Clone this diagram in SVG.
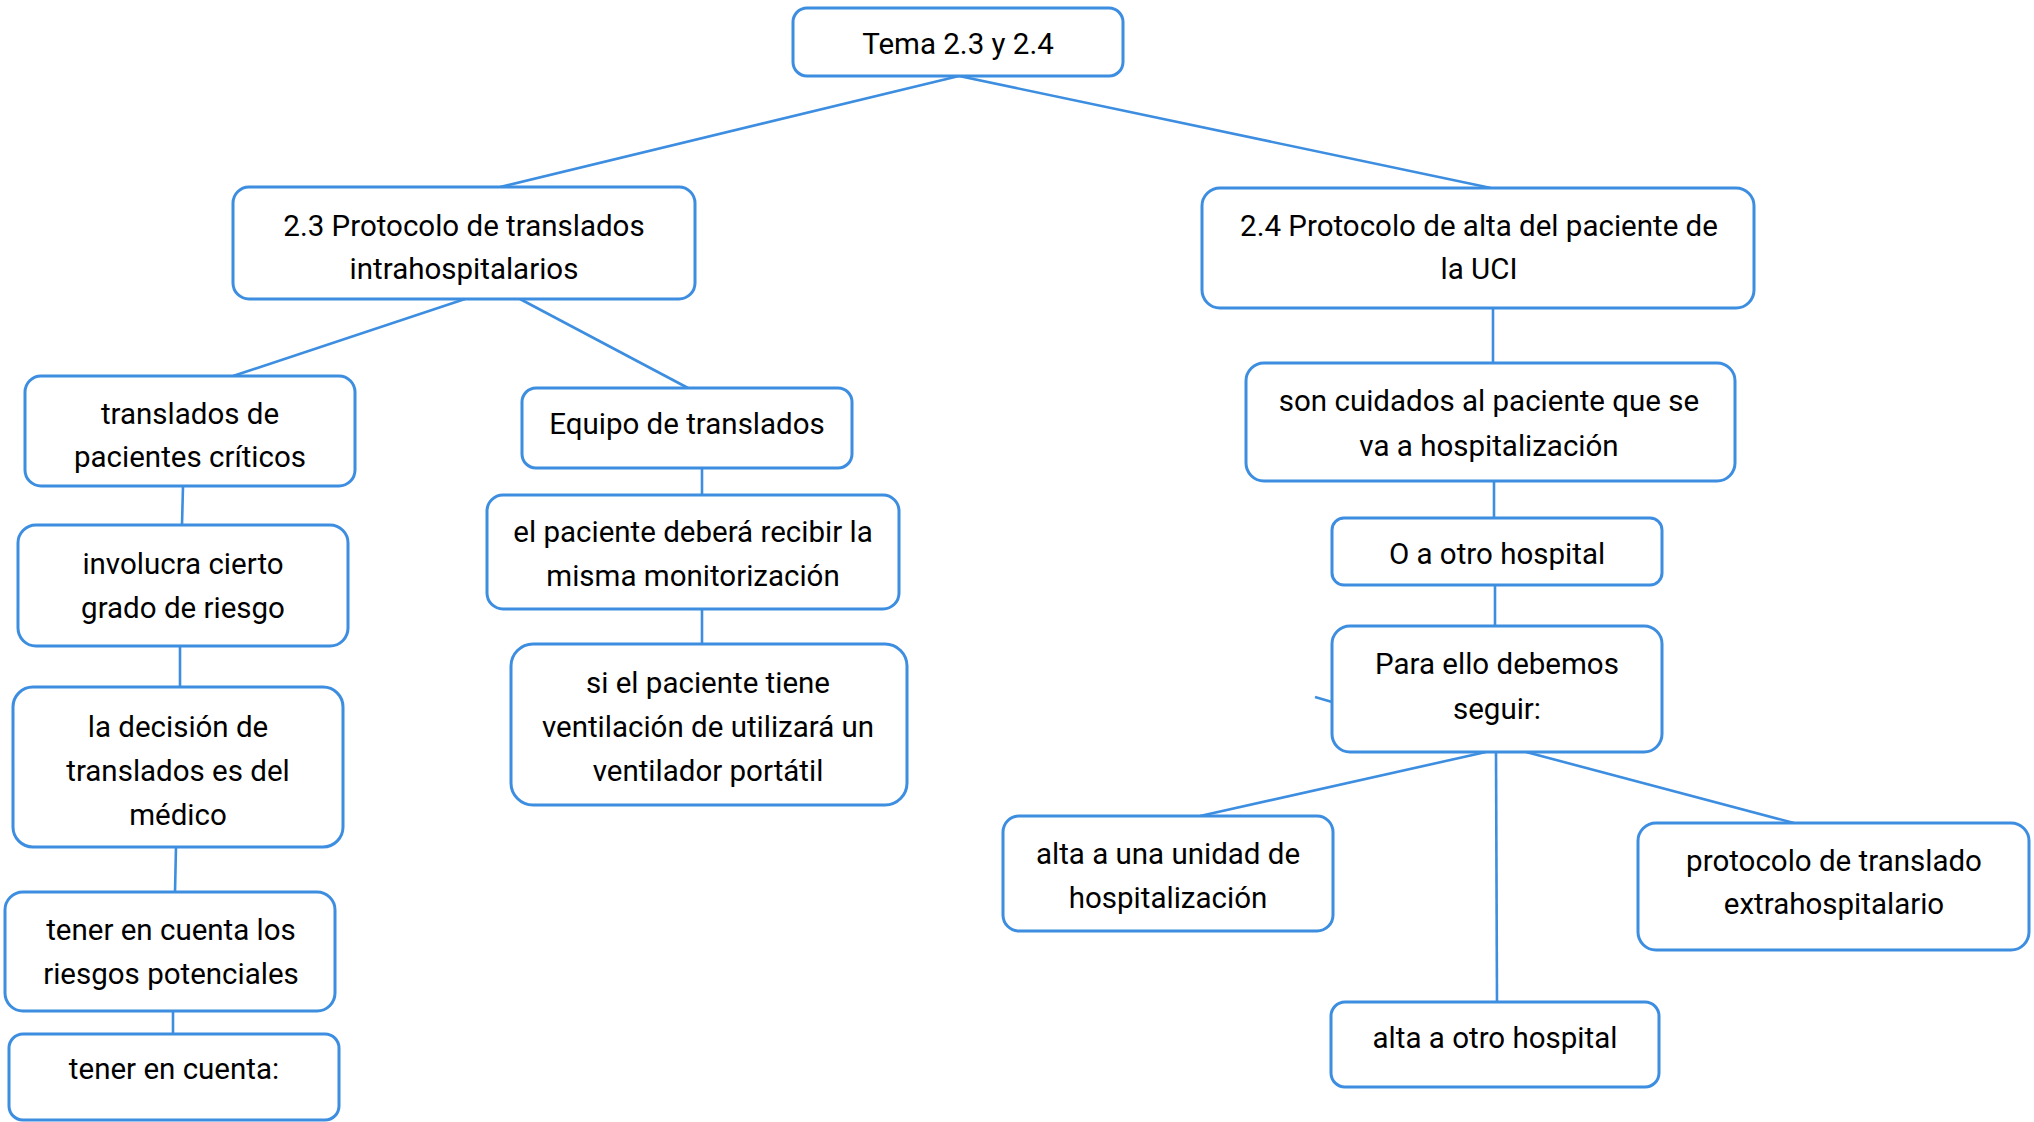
<svg xmlns="http://www.w3.org/2000/svg" width="2034" height="1122" viewBox="0 0 2034 1122">
<style>
.n rect{fill:#fff;stroke:#3d8ee0;stroke-width:3}
.n text{font-family:Roboto,"Liberation Sans",sans-serif;font-size:29.5px;fill:#000;text-anchor:middle}
#connectors line{stroke:#3d8ee0;stroke-width:2.6;fill:none}
</style>
<rect width="2034" height="1122" fill="#fff"/>
<g id="connectors">
<line x1="959" y1="76" x2="500" y2="187"/>
<line x1="959" y1="76" x2="1491" y2="188"/>
<line x1="465" y1="299" x2="233" y2="376"/>
<line x1="520" y1="299" x2="688" y2="388"/>
<line x1="183" y1="486" x2="182" y2="525"/>
<line x1="180" y1="646" x2="180" y2="687"/>
<line x1="176" y1="847" x2="175" y2="892"/>
<line x1="173" y1="1011" x2="173" y2="1034"/>
<line x1="702" y1="468" x2="702" y2="495"/>
<line x1="702" y1="609" x2="702" y2="644"/>
<line x1="1493" y1="308" x2="1493" y2="363"/>
<line x1="1494" y1="481" x2="1494" y2="518"/>
<line x1="1495" y1="585" x2="1495" y2="626"/>
<line x1="1315" y1="697" x2="1332" y2="702"/>
<line x1="1486" y1="752" x2="1200" y2="816"/>
<line x1="1496" y1="752" x2="1497" y2="1002"/>
<line x1="1526" y1="752" x2="1794" y2="823"/>
</g>
<g id="root" class="n"><rect x="793" y="8" width="330" height="68" rx="14"/><text x="958" y="54">Tema 2.3 y 2.4</text></g>
<g id="n23" class="n"><rect x="233" y="187" width="462" height="112" rx="16"/><text x="464" y="236">2.3 Protocolo de translados</text><text x="464" y="279">intrahospitalarios</text></g>
<g id="criticos" class="n"><rect x="25" y="376" width="330" height="110" rx="16"/><text x="190" y="424">translados de</text><text x="190" y="467">pacientes críticos</text></g>
<g id="involucra" class="n"><rect x="18" y="525" width="330" height="121" rx="18"/><text x="183" y="574">involucra cierto</text><text x="183" y="618">grado de riesgo</text></g>
<g id="decision" class="n"><rect x="13" y="687" width="330" height="160" rx="20"/><text x="178" y="737">la decisión de</text><text x="178" y="781">translados es del</text><text x="178" y="825">médico</text></g>
<g id="riesgos" class="n"><rect x="5" y="892" width="330" height="119" rx="18"/><text x="171" y="940">tener en cuenta los</text><text x="171" y="984">riesgos potenciales</text></g>
<g id="tener" class="n"><rect x="9" y="1034" width="330" height="86" rx="14"/><text x="174" y="1079">tener en cuenta:</text></g>
<g id="equipo" class="n"><rect x="522" y="388" width="330" height="80" rx="14"/><text x="687" y="434">Equipo de translados</text></g>
<g id="monitor" class="n"><rect x="487" y="495" width="412" height="114" rx="16"/><text x="693" y="542">el paciente deberá recibir la</text><text x="693" y="586">misma monitorización</text></g>
<g id="ventil" class="n"><rect x="511" y="644" width="396" height="161" rx="22"/><text x="708" y="693">si el paciente tiene</text><text x="708" y="737">ventilación de utilizará un</text><text x="708" y="781">ventilador portátil</text></g>
<g id="n24" class="n"><rect x="1202" y="188" width="552" height="120" rx="18"/><text x="1479" y="236">2.4 Protocolo de alta del paciente de</text><text x="1479" y="279">la UCI</text></g>
<g id="cuidados" class="n"><rect x="1246" y="363" width="489" height="118" rx="18"/><text x="1489" y="411">son cuidados al paciente que se</text><text x="1489" y="456">va a hospitalización</text></g>
<g id="otro" class="n"><rect x="1332" y="518" width="330" height="67" rx="12"/><text x="1497" y="564">O a otro hospital</text></g>
<g id="para" class="n"><rect x="1332" y="626" width="330" height="126" rx="18"/><text x="1497" y="674">Para ello debemos</text><text x="1497" y="719">seguir:</text></g>
<g id="unidad" class="n"><rect x="1003" y="816" width="330" height="115" rx="16"/><text x="1168" y="864">alta a una unidad de</text><text x="1168" y="908">hospitalización</text></g>
<g id="extra" class="n"><rect x="1638" y="823" width="391" height="127" rx="18"/><text x="1834" y="871">protocolo de translado</text><text x="1834" y="914">extrahospitalario</text></g>
<g id="alta" class="n"><rect x="1331" y="1002" width="328" height="85" rx="14"/><text x="1495" y="1048">alta a otro hospital</text></g>
</svg>
